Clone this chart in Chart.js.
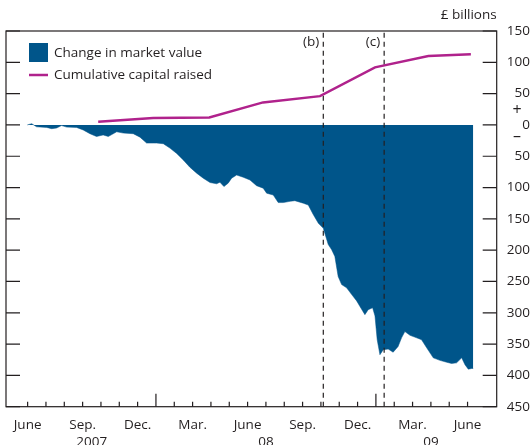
<!DOCTYPE html>
<html>
<head>
<meta charset="utf-8">
<script src="https://cdn.jsdelivr.net/npm/chart.js@4.4.0/dist/chart.umd.min.js"></script>
<style>
  html, body { margin: 0; padding: 0; background: #fff; }
  canvas { display: block; }
</style>
</head>
<body>
<canvas id="chart" width="531" height="445"></canvas>
<script>
// Trục x tính theo tháng: 0 = June 2007, 7 = Jan 2008, 19 = Jan 2009
const monthLabels = ['June', '', '', 'Sep.', '', '', 'Dec.', '', '', 'Mar.', '', '', 'June', '', '', 'Sep.', '', '', 'Dec.', '', '', 'Mar.', '', '', 'June'];
const yearLabels = ['2007', '08', '09'];
const yearCentres = [3.5, 13, 22];
const yearStarts = [7, 19];
const yTicks = [150, 100, 50, 0, -50, -100, -150, -200, -250, -300, -350, -400, -450];

// Change in market value (£ billions)
const marketMonths = [
  -0.02, 0.22, 0.49, 1.04, 1.31, 1.58, 1.85, 2.13, 2.67, 3.03,
  3.40, 3.76, 4.12, 4.40, 4.86, 5.22, 5.76, 6.13, 6.49, 6.85,
  7.04, 7.40, 7.76, 8.13, 8.49, 8.85, 9.22, 9.58, 9.95, 10.31,
  10.49, 10.71, 10.94, 11.13, 11.40, 11.76, 12.13, 12.49, 12.85, 13.04,
  13.40, 13.67, 13.95, 14.32, 14.58, 15.04, 15.31, 15.58, 15.86, 16.13,
  16.40, 16.58, 16.76, 16.94, 17.13, 17.40, 17.68, 17.95, 18.13, 18.40,
  18.58, 18.82, 18.95, 19.07, 19.22, 19.40, 19.67, 19.94, 20.21, 20.40,
  20.58, 20.86, 21.22, 21.49, 21.77, 22.13, 22.49, 22.86, 23.13, 23.40,
  23.68, 23.86, 24.04, 24.22, 24.31
];
const marketValues = [
  0, 2, -3, -4, -6, -5, -1, -3.5, -4, -8,
  -14, -18.5, -16, -18.5, -11, -13, -14, -19.5, -29, -29,
  -29, -30, -37, -45.5, -56, -67.5, -77, -85, -92, -94,
  -91.5, -98.5, -93, -85, -80, -83.5, -88, -97, -101, -109,
  -112, -124, -124, -122, -121, -125, -128, -143, -157, -165,
  -191, -199, -210, -242, -255, -260, -271, -281, -290, -303,
  -295, -292, -305, -343, -367, -359, -358, -363, -354, -340,
  -330, -336, -340, -343, -356, -372, -376, -379, -381, -380,
  -372, -383, -390, -389, -389
];

// Cumulative capital raised (£ billions)
const capitalMonths = [3.85, 6.85, 9.91, 12.84, 15.95, 18.95, 21.86, 24.18];
const capitalValues = [5, 11, 12, 36, 46, 92, 110, 113];

// Các mốc sự kiện (đường nét đứt)
const eventMonths = [16.13, 19.45];
const eventLabels = ['(b)', '(c)'];

const BLUE = '#00558a';
const MAGENTA = '#b0228c';
const INK = '#231f20';

Chart.defaults.font.family = "'Open Sans', sans-serif";
Chart.defaults.font.size = 13.5;
Chart.defaults.color = INK;

const decorPlugin = {
  id: 'decor',
  afterDraw(chart) {
    const { ctx, chartArea: a, scales: { x, y } } = chart;
    ctx.save();
    // khung
    ctx.strokeStyle = INK;
    ctx.lineWidth = 1.2;
    ctx.strokeRect(a.left, a.top, a.right - a.left, a.bottom - a.top);
    // vạch chia hướng vào trong
    ctx.beginPath();
    y.ticks.forEach(t => {
      const py = y.getPixelForValue(t.value);
      ctx.moveTo(a.left, py); ctx.lineTo(a.left + 14, py);
      ctx.moveTo(a.right - 14, py); ctx.lineTo(a.right, py);
    });
    x.ticks.forEach(t => {
      const px = x.getPixelForValue(t.value);
      const len = yearStarts.includes(t.value) ? 13 : 5;
      ctx.moveTo(px, a.bottom); ctx.lineTo(px, a.bottom - len);
    });
    ctx.stroke();

    ctx.fillStyle = INK;
    ctx.font = "13.5px 'Open Sans', sans-serif";
    ctx.textBaseline = 'middle';

    // nhãn sự kiện
    ctx.textAlign = 'right';
    eventMonths.forEach((m, i) => {
      ctx.fillText(eventLabels[i], x.getPixelForValue(m) - 4, a.top + 11);
    });

    // đơn vị
    ctx.fillText('£ billions', a.right, 15);

    // dấu + / –
    ctx.textAlign = 'center';
    const zero = y.getPixelForValue(0);
    ctx.font = "16px 'Open Sans', sans-serif";
    ctx.fillText('+', 517, zero - 14);
    ctx.fillText('–', 517, zero + 12);

    // chú giải
    ctx.font = "13.5px 'Open Sans', sans-serif";
    ctx.textAlign = 'left';
    ctx.fillStyle = BLUE;
    ctx.fillRect(29, 43, 19, 19);
    ctx.strokeStyle = MAGENTA;
    ctx.lineWidth = 2.5;
    ctx.beginPath();
    ctx.moveTo(29, 75); ctx.lineTo(48, 75);
    ctx.stroke();
    ctx.fillStyle = INK;
    ctx.fillText('Change in market value', 54, 53);
    ctx.fillText('Cumulative capital raised', 54, 75);
    ctx.restore();
  }
};

const ctx = document.getElementById('chart').getContext('2d');
new Chart(ctx, {
  type: 'line',
  data: {
    datasets: [
      {
        label: 'Change in market value',
        data: marketMonths.map((m, i) => ({ x: m, y: marketValues[i] })),
        backgroundColor: BLUE,
        borderColor: BLUE,
        borderWidth: 0.5,
        fill: 'origin',
        pointRadius: 0,
        tension: 0,
        order: 3
      },
      {
        label: 'Cumulative capital raised',
        data: capitalMonths.map((m, i) => ({ x: m, y: capitalValues[i] })),
        borderColor: MAGENTA,
        borderWidth: 2.5,
        fill: false,
        pointRadius: 0,
        tension: 0,
        order: 1
      },
      ...eventMonths.map(m => ({
        label: 'event',
        data: [{ x: m, y: -450 }, { x: m, y: 150 }],
        borderColor: INK,
        borderWidth: 1.2,
        borderDash: [5, 4],
        fill: false,
        pointRadius: 0,
        order: 2
      }))
    ]
  },
  options: {
    responsive: false,
    animation: false,
    layout: { padding: { left: 6, top: 31, right: 1, bottom: 0 } },
    plugins: { legend: { display: false }, tooltip: { enabled: false } },
    scales: {
      x: {
        type: 'linear',
        min: -1.18,
        max: 25.59,
        weight: 0,
        afterBuildTicks: s => { s.ticks = monthLabels.map((_, i) => ({ value: i })); },
        afterFit: s => { s.height = 26; },
        grid: { display: false, drawTicks: false },
        border: { display: false },
        ticks: { autoSkip: false, maxRotation: 0, padding: 10, callback: v => monthLabels[v] }
      },
      x2: {
        type: 'linear',
        position: 'bottom',
        min: -1.18,
        max: 25.59,
        weight: 1,
        afterBuildTicks: s => { s.ticks = yearCentres.map(v => ({ value: v })); },
        afterFit: s => { s.height = 12.3; },
        grid: { display: false, drawTicks: false },
        border: { display: false },
        ticks: { autoSkip: false, maxRotation: 0, padding: 1, callback: (v, i) => yearLabels[i] }
      },
      y: {
        position: 'right',
        min: -450,
        max: 150,
        afterBuildTicks: s => { s.ticks = yTicks.map(v => ({ value: v })); },
        afterFit: s => { s.width = 33.3; },
        grid: { display: false, drawTicks: false },
        border: { display: false },
        ticks: { crossAlign: 'far', padding: 0, callback: v => Math.abs(v) }
      }
    }
  },
  plugins: [decorPlugin]
});
</script>
</body>
</html>
